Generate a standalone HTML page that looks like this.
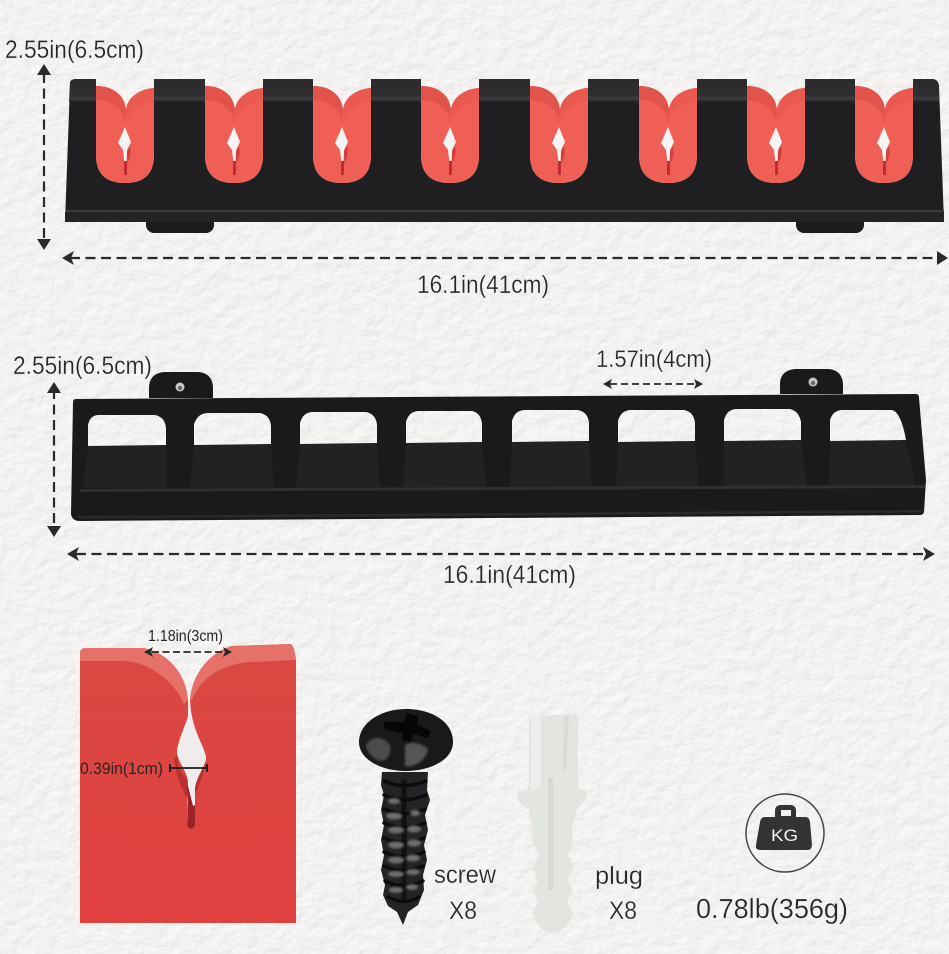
<!DOCTYPE html>
<html><head><meta charset="utf-8"><style>
html,body{margin:0;padding:0;background:#eeedeb}
svg{display:block}
text{font-family:"Liberation Sans",sans-serif;fill:#262626;stroke:#eeedeb;stroke-width:.25px}
</style></head><body>
<svg width="949" height="954" viewBox="0 0 949 954" xmlns="http://www.w3.org/2000/svg">
<defs>
<filter id="plaster" x="0" y="0" width="100%" height="100%">
<feTurbulence type="fractalNoise" baseFrequency="0.075 0.09" numOctaves="4" seed="7" result="n"/>
<feDiffuseLighting in="n" surfaceScale="0.85" diffuseConstant="1.1" lighting-color="#f3f2f0"><feDistantLight azimuth="235" elevation="66"/></feDiffuseLighting>
</filter>
<filter id="soft" x="-20%" y="-20%" width="140%" height="140%"><feGaussianBlur stdDeviation="1.100"/></filter>
<linearGradient id="band" x1="0" y1="0" x2="0" y2="1"><stop offset="0" stop-color="#2c2c2e"/><stop offset=".7" stop-color="#2e2e30"/><stop offset=".85" stop-color="#3e3e3f"/><stop offset="1" stop-color="#222224"/></linearGradient>
<linearGradient id="blockface" x1="0" y1="0" x2="0" y2="1"><stop offset="0" stop-color="#d94943"/><stop offset="1" stop-color="#e0403f"/></linearGradient>
<g id="unit">
<path d="M0 86C18 86 29 96 30 110C31 98 43 89 58 88V155Q58 183 29 183Q0 183 0 155Z" fill="#ef5f56"/>
<path d="M0 86C18 86 29 96 30 110L29 122C27 108 15 100 0 100Z" fill="#e2534c"/>
<path d="M58 88C43 89 31 98 30 110L31 122C33 110 45 102 58 101Z" fill="#e9594f"/>
<path d="M29 127L35 142L31 150L30.500 163H28.500L27 150L22 143Z" fill="#f4f4f2"/>
<path d="M28 161H31V175H28Z" fill="#c02c30"/>
<path d="M34 146C36 153 33 160 31.500 164L31 152Z" fill="#cf403c"/>
</g>
</defs>

<rect width="949" height="954" fill="#eeedeb"/>
<rect width="949" height="954" filter="url(#plaster)"/>

<!-- top rack -->
<rect x="146" y="214" width="68" height="19" rx="8" fill="#1c1c1e"/>
<rect x="796" y="214" width="68" height="19" rx="8" fill="#1c1c1e"/>
<path fill="#1f1f21" d="M76 79H96V155Q96 183 125 183Q154 183 154 155V79H205V155Q205 183 234 183Q263 183 263 155V79H313V155Q313 183 342 183Q371 183 371 155V79H421V155Q421 183 450 183Q479 183 479 155V79H530V155Q530 183 559 183Q588 183 588 155V79H639V155Q639 183 668 183Q697 183 697 155V79H747V155Q747 183 776 183Q805 183 805 155V79H855V155Q855 183 884 183Q913 183 913 155V79H932Q938 79 939 86L944 222H65L70 85Q71 79 76 79Z"/>
<g fill="url(#band)">
<path d="M70 82Q71 79 76 79H96V102H69Z"/><rect x="154" y="79" width="51" height="23"/><rect x="263" y="79" width="50" height="23"/><rect x="371" y="79" width="50" height="23"/><rect x="479" y="79" width="51" height="23"/><rect x="588" y="79" width="51" height="23"/><rect x="697" y="79" width="50" height="23"/><rect x="805" y="79" width="50" height="23"/><path d="M913 79H932Q938 79 939 86V102H913Z"/>
</g>
<rect x="66" y="210" width="878" height="2" fill="#3a3a3a"/>
<rect x="65" y="212" width="879" height="10" fill="#232325"/>
<use href="#unit" x="96"/><use href="#unit" x="205"/><use href="#unit" x="313"/><use href="#unit" x="421"/><use href="#unit" x="530"/><use href="#unit" x="639"/><use href="#unit" x="747"/><use href="#unit" x="855"/>

<!-- second rack -->
<path d="M149 398V388C149 377 156 372 166 372H197C207 372 213 378 213 388V398Z" fill="#1a1a1a"/>
<path d="M780 394V384C780 374 787 369 797 369H827C837 369 843 375 843 385V394Z" fill="#1a1a1a"/>
<circle cx="180" cy="387" r="4.500" fill="#c9c9c5"/><circle cx="180" cy="388" r="2.200" fill="#666"/>
<circle cx="813" cy="382" r="4.500" fill="#c9c9c5"/><circle cx="813" cy="383" r="2.200" fill="#666"/>
<path fill="#1a1a1a" fill-rule="evenodd" d="M76 399L916 394Q919 394 919 398L926 480L924 512Q923 515 920 515L80 521Q72 521 71 514L73 402Q73 399 76 399Z
M88 446V425Q90 415 99 415H155Q165 417 166 428L166 445Z
M194 445V424Q198 413 208 413H260Q270 415 271 426V444Z
M300 444V423Q303 412 313 412H366Q376 414 377 425V443Z
M406 443V422Q409 411 419 411H472Q481 413 482 424V442Z
M512 442V421Q515 410 525 410H578Q588 412 589 423V441Z
M618 442V421Q621 410 631 410H684Q694 412 695 423V441Z
M724 441V420Q727 409 737 409H790Q799 411 801 422V440Z
M830 441V420Q833 410 843 410H892Q901 412 906 440Z"/>
<path d="M88 446H166L166 488H83ZM194 445H271L274 488H190ZM300 444H377L380 488H296ZM406 443H482L486 488H403ZM512 442H589L592 487H510ZM618 442H695L699 487H616ZM724 441H801L807 487H723ZM830 441H906L915 486H829Z" fill="#222224"/>
<path d="M80 489L925 485V488L80 492Z" fill="#2f2f2f"/>
<path d="M76 516L923 510V512.500L80 518.500Z" fill="#2a2a2a"/>

<!-- block -->
<path fill="url(#blockface)" d="M80 653Q80 648 86 648H143C166 652 186 672 188 700L188 716C186 725 178 740 177 752C178 762 186 770 188 780L187 826Q191 832 195 826L195 788C197 775 206 768 206 757C204 745 191 730 190 700C192 674 210 652 232 646L290 644Q294 644 296 660V923H80Z"/>
<path fill="#e6716a" d="M80 653Q80 648 86 648H143C166 652 186 672 188 700L184 704C176 684 150 660 120 661H80Z"/>
<path fill="#e6716a" d="M190 700C192 674 210 652 232 646L290 644Q294 644 296 660L250 662C222 664 200 678 192 700Z"/>
<path fill="#eeedeb" d="M188 700L188 716C186 725 178 740 177 752C178 762 186 770 188 780L193 806L195 788C197 775 206 768 206 757C204 745 191 730 190 700Z"/>
<path fill="#9c2228" d="M186 778L188 800L187 826Q191 832 195 826L195 805L193 806Z"/>
<path fill="#b8302f" d="M174 758C176 775 182 790 187 798L187 780C180 772 177 764 177 756ZM206 760C205 772 200 782 195 795L195 788C197 776 203 770 206 760Z"/>

<!-- screw -->
<path d="M382 772H428L427 790L430 800L425 815L428 830L424 845L427 860L423 875L424 890L418 905L408 912L403 925L397 912L388 906L383 895L385 885L381 870L384 855L381 840L384 825L381 810L384 795L381 785Z" fill="#242426"/>
<g stroke="#0c0c0e" stroke-width="3.500" fill="none" stroke-linecap="round">
<path d="M384 781Q404 790 426 781"/><path d="M384 795Q404 804 426 795"/><path d="M384 809Q404 818 425 809"/><path d="M384 823Q404 832 425 823"/><path d="M384 838Q404 847 424 838"/><path d="M384 852Q404 861 424 852"/><path d="M384 866Q404 875 423 866"/><path d="M385 881Q404 890 423 881"/><path d="M388 897Q404 906 419 897"/>
<path d="M404 782V900" stroke-width="5" opacity=".8"/>
</g>
<g fill="#6d6d6c" filter="url(#soft)">
<ellipse cx="394" cy="801" rx="6" ry="3"/><ellipse cx="394" cy="816" rx="8" ry="3.500"/><ellipse cx="415" cy="813" rx="5" ry="3"/><ellipse cx="396" cy="830" rx="8" ry="3.500"/><ellipse cx="414" cy="829" rx="7" ry="3.500"/><ellipse cx="396" cy="845" rx="8" ry="3.500"/><ellipse cx="414" cy="843" rx="7" ry="3.500"/><ellipse cx="396" cy="860" rx="8" ry="3.500"/><ellipse cx="413" cy="858" rx="7" ry="3.500"/><ellipse cx="396" cy="874" rx="8" ry="3"/><ellipse cx="413" cy="872" rx="7" ry="3"/><ellipse cx="396" cy="890" rx="7" ry="3"/><ellipse cx="412" cy="887" rx="6" ry="3"/>
</g>
<path d="M359 742C359 722 382 709 406 709C432 709 453 722 453 742C453 760 430 771 406 771C382 771 359 760 359 742Z" fill="#19191b"/>
<path d="M383 722L404 722L407 713L418 716L417 725L431 731L428 738L414 734L410 742L402 740L403 733L386 730Z" fill="#060607"/>
<g filter="url(#soft)">
<path d="M366 745C372 735 383 736 390 745C392 756 385 763 378 760C372 758 367 752 366 745Z" fill="#4c4c4c"/>
<path d="M405 745C414 740 425 745 428 750C425 762 412 768 405 766Z" fill="#555"/>
</g>

<!-- plug -->
<path fill="#e3e5e1" d="M529 718Q529 716 532 716L575 714Q578 714 578 718V785Q579 790 582 789L587 792Q589 796 585 800L577 809L572 830L573 845L568 855L574 867L567 880L573 890L567 902L573 913C570 925 562 933 553 933C544 933 536 925 533 913L538 902L533 890L538 882L533 868L539 855L532 840L533 830L529 810L519 802Q515 796 519 792L524 790Q528 790 529 785Z"/>
<path fill="#d6d8d4" d="M548 778H553V890H548Z"/>
<path fill="#d9dbd7" d="M564 716H569L566 770H563Z"/>
<path fill="#eeefec" d="M531 716L541 716V785L531 792Z"/>

<!-- KG -->
<circle cx="785" cy="833" r="39" fill="none" stroke="#444" stroke-width="1.500"/>
<path fill-rule="evenodd" fill="#333" d="M775 817V811Q775 805 781 805H790Q796 805 796 811V817H806Q809 817 810 822L812 845Q812 850 807 850H761Q755 850 756 845L760 822Q761 817 765 817ZM781 810V816H791V810Z"/>
<text x="771" y="841" font-size="17" textLength="27" lengthAdjust="spacingAndGlyphs" style="fill:#f3f3f1;stroke:none">KG</text>

<!-- dimension arrows -->
<g stroke="#2a2a2a" stroke-width="2.200" fill="none" stroke-dasharray="10 5.500">
<path d="M44 73V244"/><path d="M70 258H936"/>
<path d="M54 389V528"/><path d="M76 554H926"/>
<path d="M610 384H698" stroke-width="1.800" stroke-dasharray="7 4"/>
<path d="M152 652H226" stroke-width="1.800" stroke-dasharray="7 3.500"/>
</g>
<g fill="#2a2a2a">
<path d="M44 64L51 75H37Z"/><path d="M44 250L51 239H37Z"/>
<path d="M62 258L74 251L71 258L74 265Z"/><path d="M948 258L937 251V265Z"/>
<path d="M54 382L61 393H47Z"/><path d="M54 537L61 526H47Z"/>
<path d="M67 554L79 547L76 554L79 561Z"/><path d="M935 554L923 547L926 554L923 561Z"/>
<path d="M603 384L612 379L610 384L612 389Z"/><path d="M703 384L694 379L696 384L694 389Z"/>
<path d="M144 652L153 647L151 652L153 657Z"/><path d="M232 652L223 647L225 652L223 657Z"/>
</g>
<path d="M170 768H207M170 764V772M207 764V772" stroke="#1c1c1c" stroke-width="1.800" fill="none"/>

<!-- labels -->
<text x="5" y="58" font-size="25" textLength="139" lengthAdjust="spacingAndGlyphs">2.55in(6.5cm)</text>
<text x="417" y="293" font-size="25" textLength="132" lengthAdjust="spacingAndGlyphs">16.1in(41cm)</text>
<text x="13" y="374" font-size="25" textLength="139" lengthAdjust="spacingAndGlyphs">2.55in(6.5cm)</text>
<text x="596" y="367" font-size="24" textLength="116" lengthAdjust="spacingAndGlyphs">1.57in(4cm)</text>
<text x="443" y="583" font-size="25" textLength="133" lengthAdjust="spacingAndGlyphs">16.1in(41cm)</text>
<text x="148" y="641" font-size="16" textLength="75" lengthAdjust="spacingAndGlyphs" style="stroke:none">1.18in(3cm)</text>
<text x="80" y="774" font-size="17" textLength="83" lengthAdjust="spacingAndGlyphs" style="stroke:none">0.39in(1cm)</text>
<text x="434" y="883" font-size="25" textLength="62" lengthAdjust="spacingAndGlyphs">screw</text>
<text x="449" y="919" font-size="25" textLength="28" lengthAdjust="spacingAndGlyphs">X8</text>
<text x="595" y="884" font-size="25" textLength="48" lengthAdjust="spacingAndGlyphs">plug</text>
<text x="609" y="919" font-size="25" textLength="28" lengthAdjust="spacingAndGlyphs">X8</text>
<text x="696" y="918" font-size="28" textLength="152" lengthAdjust="spacingAndGlyphs">0.78lb(356g)</text>
</svg>
</body></html>
